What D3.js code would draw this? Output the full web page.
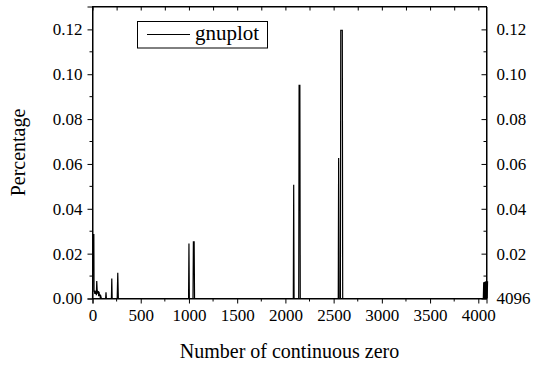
<!DOCTYPE html>
<html>
<head>
<meta charset="utf-8">
<script src="https://cdn.jsdelivr.net/npm/d3@7"></script>
<style>
  svg text { font-family: "Liberation Serif", "Times New Roman", serif !important; }
</style>
</head>
<body style="margin:0">
<svg id="chart" width="535" height="369"></svg>
<script>
// Run length of continuous zeros vs. share of occurrences
const runLength = [
  0, 6, 14, 16, 20, 24, 28, 32, 36, 40, 44, 48, 52, 56, 60, 64, 68, 72, 76, 80, 86, 92,
  136, 140, 144, 196, 200, 204, 256, 262, 268,
  996, 1000, 1004, 1042, 1046, 1054, 1058,
  2082, 2086, 2090, 2138, 2142, 2150, 2154,
  2548, 2552, 2556, 2570, 2574, 2590, 2594,
  4052, 4056, 4060, 4064, 4068, 4072, 4076, 4080, 4084, 4088, 4092, 4096
];
const percentage = [
  0, 0.0285, 0.0285, 0.0030, 0.0035, 0.0020, 0.0032, 0.0025, 0.0035, 0.0015, 0.0078, 0.0040, 0.0030, 0.0020, 0.0033, 0.0010, 0.0030, 0.0012, 0.0020, 0.0006, 0.0010, 0,
  0, 0.0028, 0, 0, 0.0089, 0, 0, 0.0115, 0,
  0, 0.0245, 0, 0, 0.0253, 0.0253, 0,
  0, 0.0507, 0, 0, 0.0950, 0.0950, 0,
  0, 0.0627, 0, 0, 0.1196, 0.1196, 0,
  0, 0.0072, 0, 0.0074, 0, 0.0076, 0, 0.0077, 0, 0.0077, 0, 0.0077
];
const xTicks = [0, 500, 1000, 1500, 2000, 2500, 3000, 3500, 4000];
const yTicks = [0, 0.02, 0.04, 0.06, 0.08, 0.10, 0.12];
const rightLabels = ["4096", "0.02", "0.04", "0.06", "0.08", "0.10", "0.12"];
const seriesName = "gnuplot";

const FONT = "'Liberation Serif', 'Times New Roman', serif";
const svg = d3.select("#chart");
const m = { left: 92.5, right: 486.5, top: 6.5, bottom: 298.5 };

const x = d3.scaleLinear().domain([0, 4085]).range([m.left, m.right]);
const y = d3.scaleLinear().domain([0, 0.1302]).range([m.bottom, m.top]);

const xMinor = d3.range(250, 4096, 500);
const yMinor = d3.range(0.01, 0.13, 0.02);
const fmt = d3.format(".2f");

// bottom axis (outward ticks)
const gx = svg.append("g").attr("transform", `translate(0,${m.bottom})`)
  .call(d3.axisBottom(x).tickValues(xTicks).tickSize(5).tickPadding(5).tickFormat(d3.format("d")));
gx.append("g").selectAll("line").data(xMinor).join("line")
  .attr("x1", d => x(d)).attr("x2", d => x(d)).attr("y1", 0).attr("y2", 3).attr("stroke", "#000");

// left axis (outward ticks)
const gy = svg.append("g").attr("transform", `translate(${m.left},0)`)
  .call(d3.axisLeft(y).tickValues(yTicks).tickSize(5).tickPadding(5).tickFormat(fmt));
gy.append("g").selectAll("line").data(yMinor).join("line")
  .attr("y1", d => y(d)).attr("y2", d => y(d)).attr("x1", 0).attr("x2", -3).attr("stroke", "#000");

// right axis (inward ticks)
const gr = svg.append("g").attr("transform", `translate(${m.right},0)`)
  .call(d3.axisRight(y).tickValues(yTicks).tickSizeInner(-5).tickSizeOuter(0).tickPadding(10)
    .tickFormat((d, i) => rightLabels[i]));
gr.append("g").selectAll("line").data(yMinor).join("line")
  .attr("y1", d => y(d)).attr("y2", d => y(d)).attr("x1", 0).attr("x2", -3).attr("stroke", "#000");

// top axis (inward ticks, no labels)
const gt = svg.append("g").attr("transform", `translate(0,${m.top})`)
  .call(d3.axisTop(x).tickValues(xTicks.concat(xMinor)).tickSizeInner(-4).tickSizeOuter(0).tickFormat(""));

[gx, gy, gr, gt].forEach(g => {
  g.attr("font-family", null).attr("font-size", null);
  g.selectAll("text").attr("fill", "#000").attr("font-size", 17);
  g.selectAll("line, path").attr("stroke", "#000");
});
gx.selectAll(".tick text").attr("dy", "0.75em");

// series line
const line = d3.line().x((d, i) => x(runLength[i])).y(d => y(d));
svg.append("path")
  .datum(percentage)
  .attr("d", line)
  .attr("fill", "none")
  .attr("stroke", "#000")
  .attr("stroke-width", 1.2);

// frame
svg.append("rect")
  .attr("x", m.left).attr("y", m.top)
  .attr("width", m.right - m.left).attr("height", m.bottom - m.top)
  .attr("fill", "none").attr("stroke", "#000").attr("stroke-width", 1);

// legend
const lg = svg.append("g");
lg.append("rect").attr("x", 137.5).attr("y", 21.5).attr("width", 130).attr("height", 26.5)
  .attr("fill", "#fff").attr("stroke", "#000");
lg.append("line").attr("x1", 147).attr("x2", 190).attr("y1", 34.5).attr("y2", 34.5).attr("stroke", "#000");
lg.append("text").attr("x", 195).attr("y", 40).attr("font-size", 21).text(seriesName);

// axis titles
svg.append("text").attr("x", (m.left + m.right) / 2).attr("y", 358)
  .attr("text-anchor", "middle").attr("font-size", 20).text("Number of continuous zero");
svg.append("text")
  .attr("transform", `translate(25,${(m.top + m.bottom) / 2}) rotate(-90)`)
  .attr("text-anchor", "middle").attr("font-size", 20).text("Percentage");

// serif face on every label, as an inline style
svg.selectAll("text").style("font-family", FONT, "important");
</script>
</body>
</html>
